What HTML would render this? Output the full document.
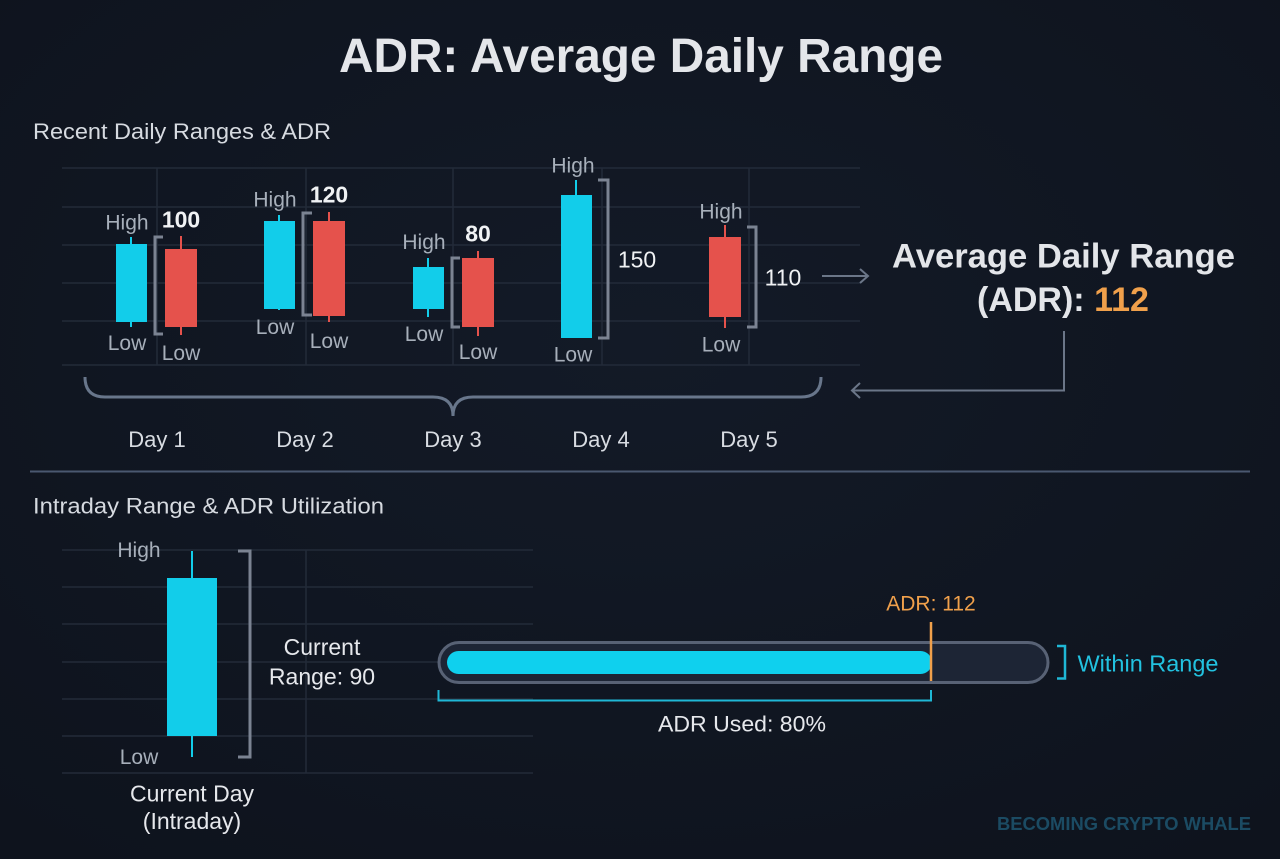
<!DOCTYPE html>
<html><head><meta charset="utf-8"><style>
html,body{margin:0;padding:0;background:#101622;}
svg{display:block;}
text{font-family:"Liberation Sans",sans-serif;}
</style></head><body>
<svg width="1280" height="859" viewBox="0 0 1280 859" xmlns="http://www.w3.org/2000/svg">
<defs>
<radialGradient id="bg" cx="50%" cy="40%" r="75%">
<stop offset="0" stop-color="#131a27"/><stop offset="1" stop-color="#0e131d"/>
</radialGradient>
</defs>
<rect width="1280" height="859" fill="url(#bg)"/>

<!-- Title -->
<text x="339" y="72" font-size="48" font-weight="bold" fill="#e4e6ea" textLength="604" lengthAdjust="spacingAndGlyphs">ADR: Average Daily Range</text>

<text x="33" y="139" font-size="22" fill="#d6dae0" textLength="298" lengthAdjust="spacingAndGlyphs">Recent Daily Ranges &amp; ADR</text>

<!-- top grid -->
<g stroke="#232b39" stroke-width="1.5">
<line x1="62" y1="168" x2="860" y2="168"/>
<line x1="62" y1="207" x2="860" y2="207"/>
<line x1="62" y1="245" x2="860" y2="245"/>
<line x1="62" y1="283" x2="860" y2="283"/>
<line x1="62" y1="321" x2="860" y2="321"/>
<line x1="62" y1="365" x2="860" y2="365"/>
<line x1="157" y1="168" x2="157" y2="365"/>
<line x1="306" y1="168" x2="306" y2="365"/>
<line x1="453" y1="168" x2="453" y2="365"/>
<line x1="602" y1="168" x2="602" y2="365"/>
<line x1="749" y1="168" x2="749" y2="365"/>
</g>

<!-- candles -->
<g stroke-width="2">
<!-- Day1 -->
<line x1="131" y1="237" x2="131" y2="327" stroke="#12cdea"/>
<rect x="116" y="244" width="31" height="78" fill="#12cdea"/>
<line x1="181" y1="236" x2="181" y2="335" stroke="#e5524c"/>
<rect x="165" y="249" width="32" height="78" fill="#e5524c"/>
<!-- Day2 -->
<line x1="279" y1="215" x2="279" y2="310" stroke="#12cdea"/>
<rect x="264" y="221" width="31" height="88" fill="#12cdea"/>
<line x1="329" y1="212" x2="329" y2="322" stroke="#e5524c"/>
<rect x="313" y="221" width="32" height="95" fill="#e5524c"/>
<!-- Day3 -->
<line x1="428" y1="258" x2="428" y2="317" stroke="#12cdea"/>
<rect x="413" y="267" width="31" height="42" fill="#12cdea"/>
<line x1="478" y1="251" x2="478" y2="336" stroke="#e5524c"/>
<rect x="462" y="258" width="32" height="69" fill="#e5524c"/>
<!-- Day4 -->
<line x1="576" y1="180" x2="576" y2="196" stroke="#12cdea"/>
<rect x="561" y="195" width="31" height="143" fill="#12cdea"/>
<!-- Day5 -->
<line x1="725" y1="225" x2="725" y2="328" stroke="#e5524c"/>
<rect x="709" y="237" width="32" height="80" fill="#e5524c"/>
</g>

<!-- brackets -->
<g fill="none" stroke="#7b8392" stroke-width="3">
<polyline points="163,237 155,237 155,334 163,334"/>
<polyline points="312,213 303,213 303,315 312,315"/>
<polyline points="460,258 452,258 452,327 460,327"/>
<polyline points="598,180 608,180 608,338 598,338"/>
<polyline points="747,227 756,227 756,327 747,327"/>
</g>

<!-- labels top -->
<g font-size="21" fill="#a7afba" text-anchor="middle">
<text x="127" y="229.5">High</text>
<text x="127" y="350">Low</text>
<text x="181" y="360">Low</text>
<text x="275" y="206.5">High</text>
<text x="275" y="334">Low</text>
<text x="329" y="348">Low</text>
<text x="424" y="249">High</text>
<text x="424" y="341">Low</text>
<text x="478" y="359">Low</text>
<text x="573" y="172.5">High</text>
<text x="573" y="361.5">Low</text>
<text x="721" y="218.5">High</text>
<text x="721" y="351.5">Low</text>
</g>
<g font-size="23" fill="#f0f2f4" text-anchor="middle">
<text x="181" y="227.5" font-weight="bold">100</text>
<text x="329" y="202.5" font-weight="bold">120</text>
<text x="478" y="241.5" font-weight="bold">80</text>
<text x="637" y="267.5">150</text>
<text x="783" y="285.5">110</text>
</g>

<!-- arrow right -->
<g fill="none" stroke="#6b7688" stroke-width="2">
<line x1="822" y1="276" x2="867" y2="276"/>
<polyline points="860,269 868,276 860,283"/>
<polyline points="1064,331 1064,390.5 852,390.5"/>
<polyline points="860,383 852,390.5 860,398"/>
</g>

<!-- ADR big label -->
<text x="892" y="267.5" font-size="34" font-weight="bold" fill="#e3e5e9" textLength="343" lengthAdjust="spacingAndGlyphs">Average Daily Range</text>
<text x="977" y="311" font-size="34" font-weight="bold" fill="#e3e5e9">(ADR): <tspan fill="#f0a04b">112</tspan></text>

<!-- brace -->
<path d="M85,377 Q85,397 105,397 L433,397 Q453,397 453,416 Q453,397 473,397 L801,397 Q821,397 821,377" fill="none" stroke="#68768b" stroke-width="3"/>

<g font-size="22" fill="#d8dce2" text-anchor="middle">
<text x="157" y="447">Day 1</text>
<text x="305" y="447">Day 2</text>
<text x="453" y="447">Day 3</text>
<text x="601" y="447">Day 4</text>
<text x="749" y="447">Day 5</text>
</g>

<!-- separator -->
<line x1="30" y1="471.5" x2="1250" y2="471.5" stroke="#4a5870" stroke-width="2"/>

<text x="33" y="513.5" font-size="22" fill="#d6dae0" textLength="351" lengthAdjust="spacingAndGlyphs">Intraday Range &amp; ADR Utilization</text>

<!-- bottom grid -->
<g stroke="#232b39" stroke-width="1.5">
<line x1="62" y1="550" x2="533" y2="550"/>
<line x1="62" y1="587" x2="533" y2="587"/>
<line x1="62" y1="624" x2="533" y2="624"/>
<line x1="62" y1="662" x2="533" y2="662"/>
<line x1="62" y1="699" x2="533" y2="699"/>
<line x1="62" y1="736" x2="533" y2="736"/>
<line x1="62" y1="773" x2="533" y2="773"/>
<line x1="306" y1="550" x2="306" y2="773"/>
</g>

<!-- current candle -->
<line x1="192" y1="551" x2="192" y2="757" stroke="#12cdea" stroke-width="2"/>
<rect x="167" y="578" width="50" height="158" fill="#12cdea"/>
<polyline points="238,551 250,551 250,757 238,757" fill="none" stroke="#7b8392" stroke-width="3"/>

<g font-size="21" fill="#a7afba" text-anchor="middle">
<text x="139" y="557">High</text>
<text x="139" y="764">Low</text>
</g>
<g font-size="23" fill="#e6e8ec" text-anchor="middle">
<text x="322" y="655">Current</text>
<text x="322" y="684.5">Range: 90</text>
<text x="192" y="801.5">Current Day</text>
<text x="192" y="829">(Intraday)</text>
</g>

<!-- progress bar -->
<rect x="439" y="642.5" width="609" height="40" rx="20" fill="#1d2535" stroke="#586275" stroke-width="3"/>
<rect x="447" y="651" width="485" height="23" rx="11.5" fill="#0fd0ee"/>
<line x1="931" y1="622" x2="931" y2="681" stroke="#f0a04b" stroke-width="2.5"/>
<text x="931" y="610.5" font-size="21" fill="#f0a04b" text-anchor="middle">ADR: 112</text>
<polyline points="438.5,690 438.5,700.5 931,700.5 931,690" fill="none" stroke="#1fb8d6" stroke-width="2"/>
<text x="742" y="731.5" font-size="22" fill="#e6e8ec" text-anchor="middle" textLength="168" lengthAdjust="spacingAndGlyphs">ADR Used: 80%</text>
<polyline points="1057,646 1065,646 1065,678.5 1057,678.5" fill="none" stroke="#1fb8d6" stroke-width="2.5"/>
<text x="1077.5" y="671.5" font-size="23" fill="#22c2e0" textLength="141" lengthAdjust="spacingAndGlyphs">Within Range</text>

<!-- watermark -->
<text x="997" y="830" font-size="18.5" font-weight="bold" fill="#1b4b63" textLength="254" lengthAdjust="spacingAndGlyphs">BECOMING CRYPTO WHALE</text>
</svg>
</body></html>
